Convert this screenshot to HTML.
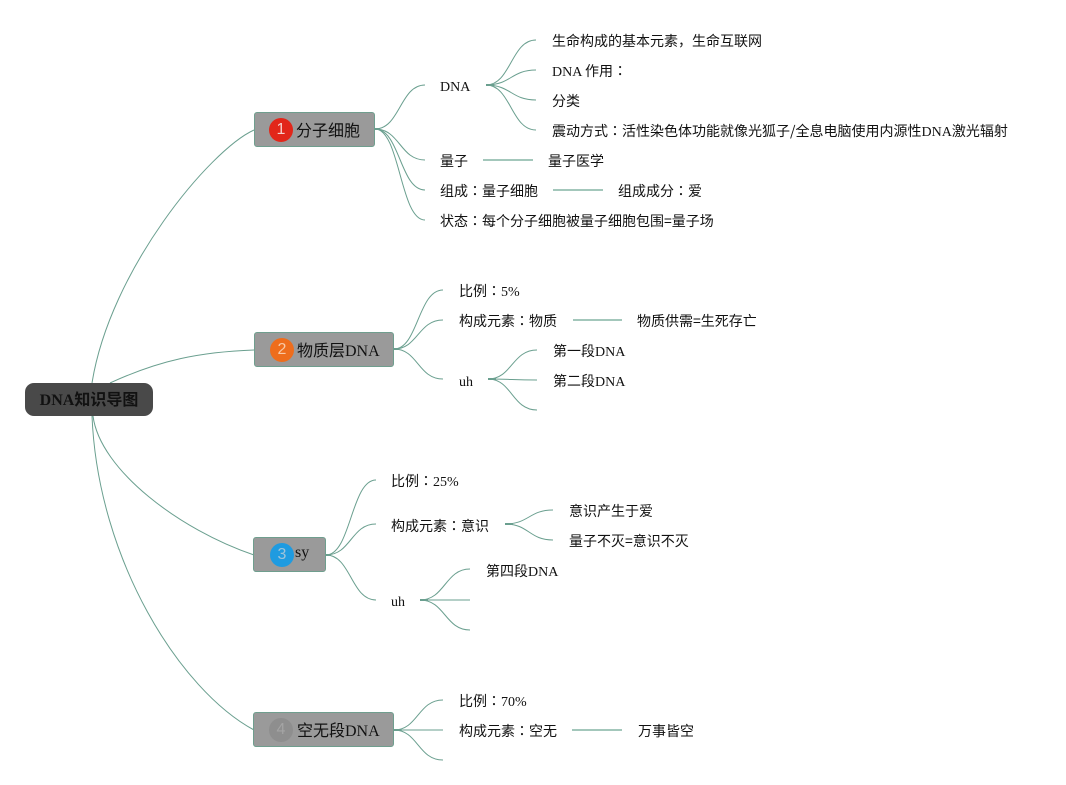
<!DOCTYPE html>
<html><head><meta charset="utf-8">
<style>
html,body{margin:0;padding:0;background:#fff;}
body{width:1066px;height:785px;position:relative;overflow:hidden;font-family:"Liberation Serif","Noto Sans CJK SC",sans-serif;color:#111;}
svg{position:absolute;left:0;top:0;}
.t{position:absolute;font-size:14px;line-height:20px;height:20px;white-space:nowrap;}
.c{font-family:"Noto Sans CJK TC",sans-serif;line-height:0;}
.e{font-family:"Noto Sans CJK SC",sans-serif;line-height:0;}
.node{position:absolute;box-sizing:border-box;background:#9a9a9a;border:1px solid #6f9e8e;border-radius:3px;}
.nt{position:absolute;font-size:16px;line-height:20px;white-space:nowrap;color:#111;}
.ic{position:absolute;width:24px;height:24px;border-radius:50%;font-family:"Liberation Sans",sans-serif;font-size:16px;line-height:24px;text-align:center;}
.root{position:absolute;left:25px;top:383px;width:128px;height:33px;background:#494949;border-radius:9px;font-weight:bold;font-size:16px;line-height:35px;text-align:center;color:#111;}
</style></head><body>
<svg width="1066" height="785" viewBox="0 0 1066 785">
<g fill="none" stroke="#6a9f8f" stroke-width="1">
<path d="M92,383 C110,270 210,150 254,130"/>
<path d="M110,383 C160,360 200,352 254,350"/>
<path d="M93,416 C100,470 180,530 254,555"/>
<path d="M92,416 C98,560 180,690 254,730"/>
<path d="M375,129 C400,129 400,85 425,85"/>
<path d="M375,129 C400,129 400,160 425,160"/>
<path d="M375,129 C400,129 400,190 425,190"/>
<path d="M375,129 C400,129 400,220 425,220"/>
<path d="M486,85 C511,85 511,40 536,40"/>
<path d="M486,85 C511,85 511,70 536,70"/>
<path d="M486,85 C511,85 511,100 536,100"/>
<path d="M486,85 C511,85 511,130 536,130"/>
<path d="M394,349 C418,349 418,290 443,290"/>
<path d="M394,349 C418,349 418,320 443,320"/>
<path d="M394,349 C418,349 418,379 443,379"/>
<path d="M488,379 C512,379 512,350 537,350"/>
<path d="M488,379 C512,379 512,380 537,380"/>
<path d="M488,379 C512,379 512,410 537,410"/>
<path d="M326,555 C351,555 351,480 376,480"/>
<path d="M326,555 C351,555 351,524 376,524"/>
<path d="M326,555 C351,555 351,600 376,600"/>
<path d="M505,524 C529,524 529,510 553,510"/>
<path d="M505,524 C529,524 529,540 553,540"/>
<path d="M420,600 C445,600 445,569 470,569"/>
<path d="M420,600 C445,600 445,600 470,600"/>
<path d="M420,600 C445,600 445,630 470,630"/>
<path d="M394,730 C418,730 418,700 443,700"/>
<path d="M394,730 C418,730 418,730 443,730"/>
<path d="M394,730 C418,730 418,760 443,760"/>
</g>
<g stroke="#6a9f8f" stroke-width="2">
<line x1="486" y1="85" x2="494" y2="85"/>
<line x1="488" y1="379" x2="496" y2="379"/>
<line x1="505" y1="524" x2="513" y2="524"/>
<line x1="420" y1="600" x2="428" y2="600"/>
<line x1="375" y1="129" x2="380" y2="129"/>
<line x1="394" y1="349" x2="399" y2="349"/>
<line x1="326" y1="555" x2="331" y2="555"/>
<line x1="394" y1="730" x2="399" y2="730"/>
</g>
<g stroke="#a3c7bb" stroke-width="2">
<line x1="483" y1="160" x2="533" y2="160"/>
<line x1="553" y1="190" x2="603" y2="190"/>
<line x1="573" y1="320" x2="622" y2="320"/>
<line x1="572" y1="730" x2="622" y2="730"/>
</g>
</svg>

<div class="root">DNA知识导图</div>

<div class="node" style="left:254px;top:112px;width:121px;height:35px;"></div>
<div class="ic" style="left:269px;top:118px;background:#e2261a;color:#f6d0cc;">1</div>
<div class="nt" style="left:296px;top:122px;">分子细胞</div>

<div class="node" style="left:254px;top:332px;width:140px;height:35px;"></div>
<div class="ic" style="left:270px;top:338px;background:#ee6d1c;color:#f8c9a6;">2</div>
<div class="nt" style="left:297px;top:342px;">物质层DNA</div>

<div class="node" style="left:253px;top:537px;width:73px;height:35px;"></div>
<div class="ic" style="left:270px;top:543px;background:#1f9be0;color:#9fc4da;">3</div>
<div class="nt" style="left:295px;top:543px;">sy</div>

<div class="node" style="left:253px;top:712px;width:141px;height:35px;"></div>
<div class="ic" style="left:269px;top:718px;background:#8e8e8e;color:#a4a4a4;">4</div>
<div class="nt" style="left:297px;top:722px;">空无段DNA</div>

<div class="t" style="left:440px;top:78px;">DNA</div>
<div class="t" style="left:552px;top:33px;">生命构成的基本元素，生命互联网</div>
<div class="t" style="left:552px;top:63px;">DNA 作用<span class="c">：</span></div>
<div class="t" style="left:552px;top:93px;">分类</div>
<div class="t" style="left:552px;top:123px;">震动方式<span class="c">：</span>活性染色体功能就像光狐子<span class="e">/</span>全息电脑使用内源性DNA激光辐射</div>
<div class="t" style="left:440px;top:153px;">量子</div>
<div class="t" style="left:548px;top:153px;">量子医学</div>
<div class="t" style="left:440px;top:183px;">组成<span class="c">：</span>量子细胞</div>
<div class="t" style="left:618px;top:183px;">组成成分<span class="c">：</span>爱</div>
<div class="t" style="left:440px;top:213px;">状态<span class="c">：</span>每个分子细胞被量子细胞包围<span class="e">=</span>量子场</div>

<div class="t" style="left:459px;top:283px;">比例<span class="c">：</span>5%</div>
<div class="t" style="left:459px;top:313px;">构成元素<span class="c">：</span>物质</div>
<div class="t" style="left:637px;top:313px;">物质供需<span class="e">=</span>生死存亡</div>
<div class="t" style="left:459px;top:373px;">uh</div>
<div class="t" style="left:553px;top:343px;">第一段DNA</div>
<div class="t" style="left:553px;top:373px;">第二段DNA</div>

<div class="t" style="left:391px;top:473px;">比例<span class="c">：</span>25%</div>
<div class="t" style="left:391px;top:518px;">构成元素<span class="c">：</span>意识</div>
<div class="t" style="left:569px;top:503px;">意识产生于爱</div>
<div class="t" style="left:569px;top:533px;">量子不灭<span class="e">=</span>意识不灭</div>
<div class="t" style="left:391px;top:593px;">uh</div>
<div class="t" style="left:486px;top:563px;">第四段DNA</div>

<div class="t" style="left:459px;top:693px;">比例<span class="c">：</span>70%</div>
<div class="t" style="left:459px;top:723px;">构成元素<span class="c">：</span>空无</div>
<div class="t" style="left:638px;top:723px;">万事皆空</div>
</body></html>
